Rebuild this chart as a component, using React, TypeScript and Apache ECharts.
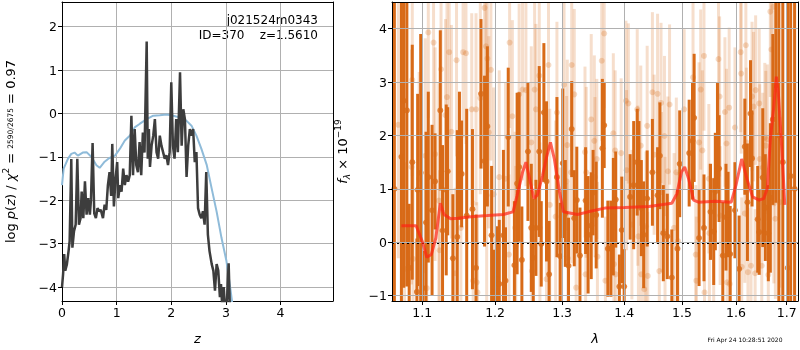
import React, { useEffect, useRef } from "react";
import * as echarts from "echarts";

// ---------- left panel: redshift PDF ----------
const zPdf = [0.00,0.02,0.04,0.06,0.09,0.12,0.14,0.17,0.19,0.22,0.25,0.28,0.31,0.34,0.36,0.39,0.42,0.45,0.48,0.51,0.53,0.56,0.59,0.62,0.65,0.68,0.71,0.75,0.78,0.81,0.84,0.87,0.90,0.92,0.95,0.98,1.01,1.03,1.06,1.09,1.12,1.15,1.18,1.21,1.24,1.27,1.30,1.33,1.36,1.39,1.42,1.45,1.48,1.51,1.55,1.57,1.59,1.61,1.64,1.67,1.70,1.73,1.76,1.79,1.82,1.85,1.88,1.91,1.94,1.97,2.00,2.03,2.06,2.09,2.12,2.16,2.19,2.22,2.25,2.28,2.31,2.34,2.37,2.40,2.43,2.46,2.49,2.52,2.55,2.58,2.61,2.64,2.67,2.70,2.74,2.77,2.80,2.83,2.86,2.89,2.91,2.93,2.96,2.98,3.01,3.05,3.08,3.12];
const logpPdf = [-4.00,-3.70,-3.24,-3.62,-3.47,-3.17,-2.94,-1.05,-3.09,-2.71,-2.56,-1.04,-2.56,-2.41,-1.80,-2.41,-1.56,-2.33,-1.95,-2.33,-1.99,-0.68,-2.30,-2.41,-2.18,-2.25,-2.22,-2.41,-2.10,-2.22,-1.65,-1.35,-1.90,-0.70,-2.14,-1.50,-1.12,-1.95,-1.65,-1.80,-1.27,-1.65,-1.42,-1.57,-1.42,-0.05,-1.42,-0.36,-1.19,-1.35,-0.66,-1.42,-0.44,-0.90,1.66,-1.04,-0.36,-1.23,-0.74,-0.51,-0.13,-0.89,-1.04,-0.51,-0.74,-0.89,-1.04,-0.96,-1.19,-0.89,0.72,-0.74,-1.04,-0.13,-0.89,0.95,-0.74,0.10,-0.13,-1.46,-0.74,-0.36,-0.51,-0.36,-1.12,-0.89,-2.18,-2.33,-2.41,-2.25,-2.56,-1.35,-2.79,-3.17,-3.47,-3.62,-4.08,-3.47,-3.62,-4.23,-3.93,-4.40,-4.00,-4.40,-4.60,-3.45,-4.80,-5.50];
const zPrior = [0.00,0.03,0.11,0.17,0.23,0.29,0.38,0.45,0.54,0.63,0.69,0.78,0.86,0.97,1.06,1.15,1.24,1.33,1.42,1.55,1.67,1.79,1.91,2.00,2.09,2.18,2.28,2.37,2.46,2.55,2.65,2.74,2.83,2.92,3.01,3.07,3.12];
const logpPrior = [-1.65,-1.27,-1.04,-0.93,-0.90,-0.97,-0.90,-0.89,-1.00,-1.19,-1.25,-1.11,-1.03,-0.97,-0.81,-0.62,-0.51,-0.32,-0.24,-0.13,-0.05,-0.04,-0.02,-0.04,-0.07,-0.09,-0.17,-0.28,-0.51,-0.81,-1.19,-1.73,-2.26,-2.87,-3.40,-3.93,-4.40];

// ---------- right panel: spectrum ----------
const lamObs = [1.064,1.073,1.076,1.080,1.083,1.087,1.093,1.094,1.098,1.101,1.105,1.108,1.113,1.117,1.124,1.127,1.132,1.134,1.141,1.147,1.150,1.153,1.160,1.168,
1.173,1.180,1.185,1.189,1.195,1.198,1.203,1.206,1.212,1.215,1.219,1.228,1.232,1.235,1.239,1.248,1.253,1.256,1.260,1.265,1.268,1.272,1.276,1.280,
1.292,1.297,1.301,1.305,1.310,1.315,1.319,1.323,1.328,1.337,1.341,1.346,1.349,1.354,1.364,1.367,1.373,1.378,1.382,1.386,1.392,1.396,1.400,1.410,1.416,
1.422,1.425,1.429,1.433,1.439,1.448,1.457,1.461,1.467,1.474,1.482,1.492,1.496,1.513,1.519,1.522,1.531,1.540,1.552,1.558,
1.561,1.565,1.568,1.575,1.581,1.585,1.589,1.598,1.606,1.617,1.622,1.628,1.631,1.642,1.645,1.652,1.657,1.663,1.667,1.672,1.678,1.684,1.692,1.702,1.708,1.716];
const fluxObs = [1.0,1.6,2.65,2.47,-0.48,1.5,-0.93,0.98,1.3,-0.86,0.37,1.22,0.6,1.14,2.47,0.22,0.98,1.33,-0.3,0.10,1.62,1.28,0.5,0.62,
-0.48,2.78,1.52,2.17,0.13,-0.94,-0.70,-0.78,0.13,-0.72,1.97,-0.43,1.10,1.41,-0.33,1.70,0.27,-0.29,0.27,1.70,-0.03,2.43,1.14,-0.60,
1.22,-0.26,1.48,0.54,-0.44,2.12,0.45,0.79,-0.25,0.78,0.14,0.31,0.93,0.51,1.76,2.19,-0.12,-0.12,0.48,0.80,-0.83,0.23,-0.83,0.85,1.07,
1.50,1.47,0.64,0.14,0.82,1.31,0.88,1.62,0.17,0.11,-0.66,-0.12,1.47,1.67,1.90,2.33,0.08,0.27,0.57,0.20,
0.95,2.0,1.38,-0.25,0.47,0.52,-0.22,0.6,-0.5,1.79,0.75,2.41,1.57,0.43,0.19,1.21,0.65,0.17,0.83,2.30,2.94,2.0,1.5,-0.48,1.24,1.0];
const errObs = [6.0,5.5,3.5,3.3,1.2,2.2,1.0,1.8,2.6,0.7,1.7,1.6,1.6,0.9,1.5,1.6,1.6,1.2,1.2,2.0,1.2,1.0,2.0,1.5,
1.0,1.4,1.6,1.5,1.3,0.8,1.0,1.2,1.6,1.0,1.3,1.2,1.7,1.4,1.0,1.3,1.2,1.1,0.9,1.6,0.8,1.3,1.5,1.0,
1.5,1.0,1.4,1.0,0.9,0.9,0.9,1.0,0.9,1.0,1.1,1.0,0.8,1.0,1.3,0.8,0.9,0.9,1.1,0.9,0.6,1.0,0.7,0.8,1.2,
1.0,0.8,0.9,1.0,0.9,1.0,0.9,1.0,0.9,0.8,0.9,1.1,1.0,1.0,1.1,1.2,0.9,1.0,0.9,1.0,
1.1,1.0,1.0,1.0,1.0,0.8,0.9,0.9,1.0,0.9,1.1,1.0,0.9,1.0,0.8,1.3,1.0,0.9,1.4,1.6,2.2,6.0,6.0,6.0,6.0,6.0];

const lamAlt = [1.069,1.077,1.086,1.087,1.088,1.096,1.104,1.106,1.108,1.115,1.117,1.122,1.123,1.125,1.131,1.133,1.136,1.139,1.144,1.146,1.152,1.155,1.159,1.167,1.169,
1.173,1.174,1.175,1.179,1.185,1.187,1.188,1.189,1.191,1.194,1.198,1.206,1.215,1.220,1.221,1.225,1.229,1.230,1.235,1.240,1.245,1.253,1.254,1.258,1.260,1.265,1.266,1.276,1.279,1.281,
1.290,1.292,1.297,1.303,1.307,1.308,1.309,1.314,1.315,1.319,1.322,1.336,1.337,1.338,1.346,1.351,1.352,1.355,1.356,1.363,1.367,1.369,1.382,1.383,1.385,1.386,1.395,1.403,1.404,1.407,1.413,
1.422,1.423,1.424,1.428,1.429,1.434,1.437,1.439,1.440,1.448,1.451,1.457,1.460,1.463,1.464,1.469,1.470,1.475,1.478,1.486,1.490,1.493,1.504,1.520,1.525,1.526,1.531,1.534,1.537,1.540,1.541,1.549,1.550,
1.558,1.567,1.569,1.570,1.579,1.582,1.583,1.587,1.588,1.598,1.609,1.610,1.611,1.617,1.619,1.620,1.623,1.629,1.631,1.634,1.637,1.638,1.645,1.646,1.650,1.652,1.656,1.658,1.661,1.663,1.667,1.669,1.673,1.674,1.677,1.686];
const fluxAlt = [2.2,-0.5,1.41,3.04,-0.31,1.19,1.62,-0.86,3.93,3.74,1.65,0.78,-0.15,3.24,2.38,2.72,3.56,2.07,-0.58,3.41,0.27,3.56,3.54,2.49,-0.72,
2.49,-0.75,-0.94,2.70,4.39,3.67,0.88,3.44,2.06,3.23,0.90,1.22,1.19,-0.23,3.74,2.36,0.27,-0.07,2.77,2.86,2.85,1.87,-0.54,2.86,2.49,3.12,0.27,-0.69,3.32,0.70,
0.48,2.43,-0.10,2.95,1.14,1.82,-0.30,1.31,3.32,2.77,-0.85,1.69,-0.60,1.31,2.30,1.90,1.22,1.56,-0.27,3.40,3.91,-0.72,2.04,-0.41,1.72,-0.60,1.67,2.65,1.35,2.60,0.33,
2.49,1.06,0.11,1.81,-0.60,-0.88,0.30,2.18,-0.63,2.81,1.64,2.78,-0.54,2.61,0.94,1.99,0.20,1.33,2.58,0.27,1.31,0.02,2.49,3.09,-0.23,-0.72,1.87,2.86,1.72,3.49,-0.94,1.19,0.17,
-0.09,3.43,2.73,0.50,2.44,1.85,-0.75,2.52,-0.78,2.15,3.56,3.16,-0.46,0.54,3.69,1.87,-0.56,-0.44,2.73,2.54,-0.58,2.85,2.60,1.56,-0.44,1.40,1.96,1.81,1.93,-0.61,4.32,3.61,4.41,0.73,0.44,0.75];
const errAlt = [2.5,2.0,2.2,1.8,1.8,2.0,2.2,1.2,1.6,1.8,2.0,2.2,1.5,1.6,1.8,1.8,1.6,2.0,1.6,1.8,2.0,1.6,1.7,1.8,1.5,
1.8,1.5,1.4,1.8,1.4,1.6,2.0,1.6,1.8,1.7,2.0,2.0,1.8,1.5,1.6,1.8,1.8,1.5,1.7,1.7,1.8,1.8,1.4,1.8,1.6,1.8,1.6,1.4,1.6,1.8,
1.8,1.7,1.5,1.8,1.6,1.6,1.4,1.7,1.6,1.6,1.2,1.6,1.3,1.6,1.6,1.6,1.5,1.5,1.4,1.5,1.4,1.2,1.5,1.3,1.5,1.3,1.4,1.5,1.5,1.5,1.4,
1.5,1.5,1.3,1.5,1.3,1.2,1.4,1.5,1.2,1.5,1.5,1.5,1.3,1.5,1.5,1.5,1.4,1.4,1.5,1.4,1.4,1.3,1.5,1.5,1.3,1.2,1.5,1.5,1.5,1.4,1.2,1.4,1.3,
1.3,1.5,1.5,1.3,1.4,1.4,1.2,1.5,1.2,1.5,1.5,1.5,1.3,1.3,1.4,1.4,1.2,1.2,1.4,1.4,1.2,1.4,1.4,1.4,1.2,1.4,1.4,1.4,1.4,1.2,1.6,1.6,1.6,1.5,1.5,1.6];

const lamModel = [1.073,1.092,1.100,1.106,1.112,1.118,1.124,1.129,1.138,1.148,1.166,1.189,1.212,1.226,1.232,1.240,1.245,1.251,1.257,1.262,1.270,1.276,1.282,1.288,1.296,1.302,1.324,1.341,1.368,1.401,1.442,1.482,1.491,1.499,1.505,1.512,1.521,1.530,1.561,1.591,1.600,1.611,1.621,1.632,1.645,1.654,1.661,1.667,1.674,1.679,1.683,1.690,1.696];
const fluxModel = [0.31,0.31,0.02,-0.28,-0.23,0.08,0.73,0.52,0.44,0.45,0.48,0.50,0.52,0.57,0.88,1.31,1.50,1.16,0.82,0.88,1.25,1.59,1.87,1.56,0.94,0.57,0.52,0.57,0.64,0.65,0.67,0.73,0.91,1.31,1.41,1.19,0.79,0.75,0.77,0.75,1.07,1.56,1.19,0.85,0.79,0.82,1.01,1.93,2.55,3.10,2.80,1.75,0.70];

const lamTicks = [1.1, 1.2, 1.3, 1.4, 1.5, 1.6, 1.7];

const ORANGE = "#d86a17";
const FONT = "DejaVu Sans";

const minusFmt = (v: number) => (v < 0 ? "\u2212" + Math.abs(v) : String(v));

function barSeries(lam: number[], flux: number[], err: number[], color: string, opacity: number, z: number) {
  return {
    type: "custom",
    xAxisIndex: 1,
    yAxisIndex: 1,
    z,
    silent: true,
    encode: { x: 0, y: 1 },
    data: lam.map((l, i) => [l, flux[i], err[i]]),
    renderItem: (params: any, api: any) => {
      const x = api.value(0), y = api.value(1), e = api.value(2);
      const top = api.coord([x, y + e]);
      const bot = api.coord([x, y - e]);
      const cs = params.coordSys;
      const y1 = Math.max(top[1], cs.y);
      const y2 = Math.min(bot[1], cs.y + cs.height);
      if (y2 <= y1) return null;
      return {
        type: "rect",
        shape: { x: top[0] - 1.5, y: y1, width: 3, height: y2 - y1 },
        style: { fill: color, opacity },
      };
    },
  };
}

const frameAxis = (gridIndex: number, position: string) => ({
  type: "value",
  gridIndex,
  position,
  min: 0,
  max: 1,
  z: 10,
  axisLine: { show: true, onZero: false, lineStyle: { color: "#000", width: 1 } },
  axisTick: { show: false },
  axisLabel: { show: false },
  splitLine: { show: false },
});

export default function App() {
  const ref = useRef<HTMLDivElement>(null);
  useEffect(() => {
    if (!ref.current) return;
    const chart = echarts.init(ref.current, null, { renderer: "svg" });
    const tickLabel = { fontSize: 12.5, color: "#000", fontFamily: FONT, margin: 5 };
    const tick = { show: true, length: 4, lineStyle: { color: "#000" } };
    const axLine = { show: true, onZero: false, lineStyle: { color: "#000", width: 1 } };
    const grid = { show: true, lineStyle: { color: "#b0b0b0", width: 1 } };
    const option: any = {
      animation: false,
      textStyle: { fontFamily: FONT },
      grid: [
        { left: 62, top: 2, width: 271, height: 302 },
        { left: 392, top: 2, width: 406, height: 302 },
      ],
      xAxis: [
        {
          type: "value", gridIndex: 0, min: 0, max: 4.96, interval: 1, z: 1,
          name: "z", nameLocation: "middle", nameGap: 31,
          nameTextStyle: { fontSize: 13, fontStyle: "italic", color: "#000", fontFamily: FONT },
          axisLine: axLine, axisTick: tick,
          axisLabel: { ...tickLabel, showMaxLabel: false, formatter: minusFmt },
          splitLine: grid,
        },
        {
          type: "log", logBase: 10, gridIndex: 1, min: 1.061, max: 1.723, z: 10,
          name: "λ", nameLocation: "middle", nameGap: 31,
          nameTextStyle: { fontSize: 13, fontStyle: "italic", color: "#000", fontFamily: FONT },
          axisLine: axLine,
          axisTick: { ...tick, customValues: lamTicks },
          axisLabel: { ...tickLabel, customValues: lamTicks, formatter: (v: number) => Number(v).toFixed(1) },
          splitLine: { show: false },
        },
        frameAxis(0, "top"),
        frameAxis(1, "top"),
      ],
      yAxis: [
        {
          type: "value", gridIndex: 0, min: -4.32, max: 2.57, z: 1,
          name: "{n|log }{i|p}{n|(}{i|z}{n|) / }{i|χ}{sup|2}{n| = }{f|2590/2675}{n| = 0.97}",
          nameLocation: "middle", nameGap: 43,
          nameTextStyle: {
            color: "#000",
            rich: {
              n: { fontSize: 13, lineHeight: 18, color: "#000", fontFamily: FONT },
              i: { fontSize: 13, lineHeight: 18, color: "#000", fontStyle: "italic", fontFamily: FONT },
              sup: { fontSize: 9, lineHeight: 10, color: "#000", fontFamily: FONT, verticalAlign: "top" },
              f: { fontSize: 7.5, lineHeight: 18, color: "#000", fontFamily: FONT },
            },
          },
          axisLine: axLine, axisTick: tick,
          axisLabel: { ...tickLabel, showMinLabel: false, showMaxLabel: false, formatter: minusFmt },
          splitLine: grid,
        },
        {
          type: "value", gridIndex: 1, min: -1.1, max: 4.5, z: 10,
          name: "{i|f}{s|λ}{n| × 10}{p|−19}",
          nameLocation: "middle", nameGap: 41,
          nameTextStyle: {
            color: "#000",
            rich: {
              n: { fontSize: 13, lineHeight: 18, color: "#000", fontFamily: FONT },
              i: { fontSize: 13, lineHeight: 18, color: "#000", fontStyle: "italic", fontFamily: FONT },
              s: { fontSize: 9, lineHeight: 10, color: "#000", fontStyle: "italic", fontFamily: FONT, verticalAlign: "bottom" },
              p: { fontSize: 9, lineHeight: 10, color: "#000", fontFamily: FONT, verticalAlign: "top" },
            },
          },
          axisLine: axLine, axisTick: tick,
          axisLabel: { ...tickLabel, showMinLabel: false, showMaxLabel: false, formatter: minusFmt },
          splitLine: grid,
        },
        frameAxis(0, "right"),
        frameAxis(1, "right"),
      ],
      graphic: [
        { type: "text", x: 318, y: 20, style: { text: "j021524m0343", fill: "#000", font: `12px "${FONT}"`, textAlign: "right", textVerticalAlign: "middle" } },
        { type: "text", x: 318, y: 35, style: { text: "ID=370    z=1.5610", fill: "#000", font: `12px "${FONT}"`, textAlign: "right", textVerticalAlign: "middle" } },
        { type: "text", x: 745, y: 339, style: { text: "Fri Apr 24 10:28:51 2020", fill: "#000", font: `6px "${FONT}"`, textAlign: "center", textVerticalAlign: "middle" } },
      ],
      series: [
        {
          type: "line", xAxisIndex: 0, yAxisIndex: 0, z: 3,
          data: zPrior.map((z, i) => [z, logpPrior[i]]),
          showSymbol: false, symbol: "none", silent: true,
          lineStyle: { color: "#8fbbd9", width: 2 },
        },
        {
          type: "line", xAxisIndex: 0, yAxisIndex: 0, z: 4,
          data: zPdf.map((z, i) => [z, logpPdf[i]]),
          showSymbol: false, symbol: "none", silent: true,
          lineStyle: { color: "#3d3d3d", width: 2.5 },
        },
        barSeries(lamAlt, fluxAlt, errAlt, ORANGE, 0.22, 2),
        {
          type: "scatter", xAxisIndex: 1, yAxisIndex: 1, z: 2, silent: true,
          data: lamAlt.map((l, i) => [l, fluxAlt[i]]),
          symbolSize: 6,
          itemStyle: { color: ORANGE, opacity: 0.25 },
        },
        barSeries(lamObs, fluxObs, errObs, ORANGE, 1, 3),
        {
          type: "scatter", xAxisIndex: 1, yAxisIndex: 1, z: 4, silent: true,
          data: lamObs.map((l, i) => [l, fluxObs[i]]),
          symbolSize: 6,
          itemStyle: { color: ORANGE },
        },
        {
          type: "line", xAxisIndex: 1, yAxisIndex: 1, z: 9, silent: true,
          data: [],
          markLine: {
            silent: true, symbol: ["none", "none"], label: { show: false },
            lineStyle: { color: "#b0b0b0", width: 1, type: "solid" },
            data: lamTicks.map((v) => ({ xAxis: v })),
          },
        },
        {
          type: "line", xAxisIndex: 1, yAxisIndex: 1, z: 12, silent: true,
          data: lamModel.map((l, i) => [l, fluxModel[i]]),
          showSymbol: false, symbol: "none",
          lineStyle: { color: "rgba(255,35,20,0.7)", width: 3 },
          markLine: {
            silent: true, symbol: ["none", "none"], label: { show: false },
            lineStyle: { color: "#000", width: 2, type: [2, 3] },
            data: [{ yAxis: 0 }],
          },
        },
      ],
    };
    chart.setOption(option);
    return () => chart.dispose();
  }, []);
  return <div ref={ref} style={{ position: "fixed", left: 0, top: 0, width: 800, height: 350 }} />;
}
